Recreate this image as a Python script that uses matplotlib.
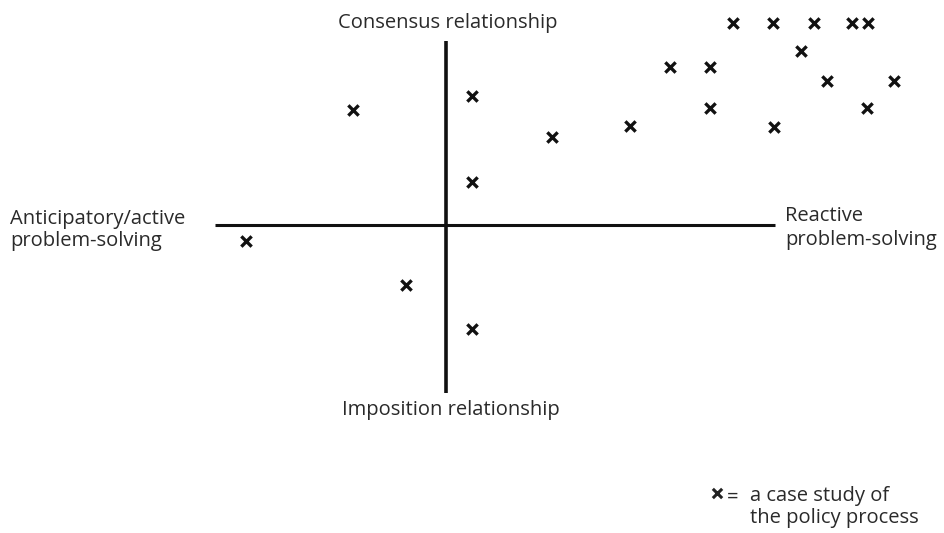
import matplotlib
matplotlib.use("Agg")
import matplotlib.pyplot as plt

# Case-study positions (x: anticipatory(-) .. reactive(+); y: imposition(-) .. consensus(+))
case_x = [285, 325, 366, 404, 420, 353, 222, 262, 379, 446, 24, -95, 262, 419, 182, 326, 104, 24, -202, -42, 24]
case_y = [202, 202, 202, 202, 202, 174, 158, 158, 144, 144, 129, 115, 117, 117, 99, 98, 88, 43, -16, -60, -104]

axis_labels = {
    "top": "Consensus relationship",
    "bottom": "Imposition relationship",
    "left": "Anticipatory/active\nproblem-solving",
    "right": "Reactive\nproblem-solving",
}
legend_text = "a case study of\nthe policy process"

plt.rcParams['font.family'] = ['Open Sans', 'DejaVu Sans']
fig = plt.figure(figsize=(9.45, 5.33), dpi=100)
ax = fig.add_axes([0, 0, 1, 1])
ax.set_xlim(-448, 497)
ax.set_ylim(-308, 225)
ax.axis('off')

tc = '#2a2a2a'
ax.plot([-233, 327], [0, 0], color='#111111', lw=2.2, solid_capstyle='butt')
ax.plot([-2, -2], [-168, 184], color='#111111', lw=2.6, solid_capstyle='butt')

ax.scatter(case_x, case_y, marker='x', s=55, color='#111111', linewidths=2.4)

fs = 14.5
ax.text(0, 202, axis_labels["top"], ha='center', va='center', fontsize=fs, color=tc)
ax.text(3, -185, axis_labels["bottom"], ha='center', va='center', fontsize=fs, color=tc)
ax.text(-438, -5, axis_labels["left"], ha='left', va='center', fontsize=fs, color=tc, linespacing=1.15)
ax.text(337, -3, axis_labels["right"], ha='left', va='center', fontsize=fs, color=tc, linespacing=1.3)

ax.scatter([269], [-268], marker='x', s=45, color='#222222', linewidths=2.2)
ax.text(279, -273, "=", ha='left', va='center', fontsize=fs, color=tc)
ax.text(302, -282, legend_text, ha='left', va='center', fontsize=fs, color=tc, linespacing=1.2)

fig.savefig("out.png", dpi=100)
